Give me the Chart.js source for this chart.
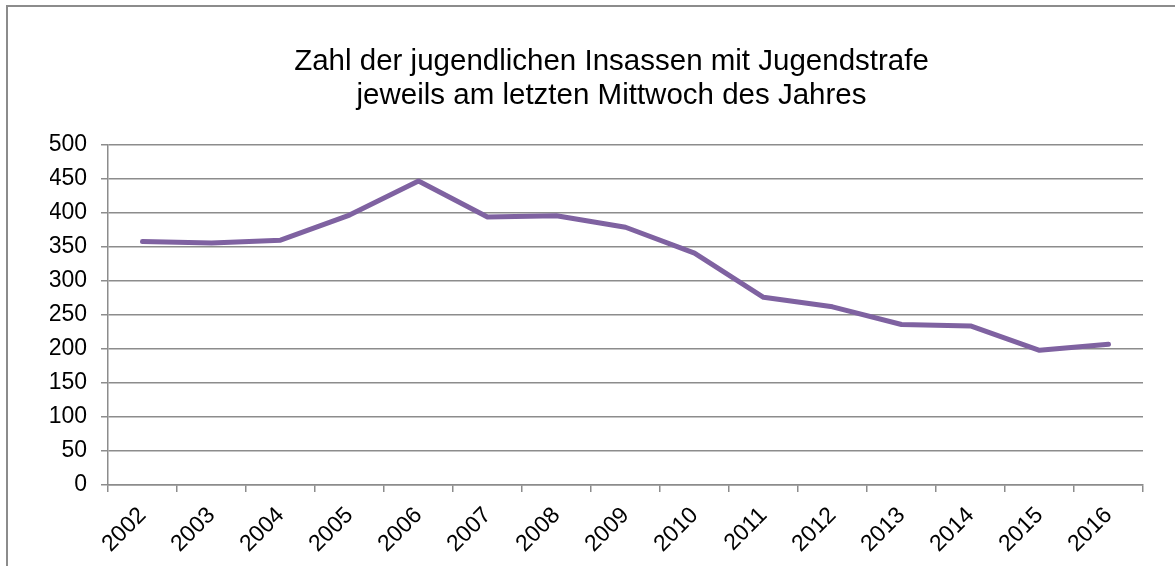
<!DOCTYPE html>
<html>
<head>
<meta charset="utf-8">
<script src="https://cdn.jsdelivr.net/npm/chart.js@4/dist/chart.umd.min.js"></script>
<style>
  html, body { margin: 0; padding: 0; background: #fff; overflow: hidden; }
  #wrap { position: relative; width: 1175px; height: 566px; overflow: hidden; }
  #frame { position: absolute; left: 6px; top: 5px; width: 1300px; height: 700px; border: 2px solid #8c8c8c; box-sizing: border-box; }
  #c { position: absolute; left: 0; top: 0; }
</style>
</head>
<body>
<div id="wrap">
  <div id="frame"></div>
  <canvas id="c" width="1175" height="566"></canvas>
</div>
<script>
const titleLines = ['Zahl der jugendlichen Insassen mit Jugendstrafe', 'jeweils am letzten Mittwoch des Jahres'];
const years = ['2002','2003','2004','2005','2006','2007','2008','2009','2010','2011','2012','2013','2014','2015','2016'];
const inmates = [358, 356, 360, 397, 447, 394, 396, 379, 341, 276, 262, 236, 234, 198, 207];
const yMin = 0, yMax = 500, yStep = 50;

const FONT = '"Liberation Sans", Arial, Helvetica, sans-serif';
const GRID = '#8c8c8c';

// shift the title's horizontal box so it centres like the reference
const titleShift = {
  id: 'titleShift',
  afterLayout(chart) {
    if (chart.titleBlock) chart.titleBlock.left += 30;
  }
};

new Chart(document.getElementById('c'), {
  type: 'line',
  data: {
    labels: years,
    datasets: [{
      data: inmates,
      borderColor: '#7f62a1',
      borderWidth: 5,
      pointRadius: 0,
      pointHoverRadius: 0,
      tension: 0,
      fill: false,
      borderCapStyle: 'round',
      borderJoinStyle: 'round'
    }]
  },
  plugins: [titleShift],
  options: {
    responsive: false,
    animation: false,
    events: [],
    layout: { padding: { left: 50, right: 32, top: 0, bottom: 0 } },
    plugins: {
      legend: { display: false },
      tooltip: { enabled: false },
      title: {
        display: true,
        text: titleLines,
        color: '#000',
        font: { family: FONT, size: 29.5, weight: 'normal', lineHeight: 34 / 29.5 },
        padding: { top: 45, bottom: 32 }
      }
    },
    scales: {
      x: {
        type: 'category',
        offset: true,
        grid: { offset: true, drawOnChartArea: false, drawTicks: true, tickLength: 7, color: GRID, lineWidth: 1.5 },
        border: { display: true, color: GRID, width: 1.5 },
        ticks: { color: '#000', font: { family: FONT, size: 23 }, minRotation: 45, maxRotation: 45, autoSkip: false, padding: 10 },
        afterFit: (s) => { s.height = 81; }
      },
      y: {
        min: yMin, max: yMax,
        grid: { color: GRID, lineWidth: 1.5, drawTicks: true, tickLength: 7 },
        border: { display: true, color: GRID, width: 1.5 },
        ticks: { stepSize: yStep, color: '#000', font: { family: FONT, size: 23 }, padding: 14 },
        afterFit: (s) => { s.width = 58; }
      }
    }
  }
});
</script>
</body>
</html>
